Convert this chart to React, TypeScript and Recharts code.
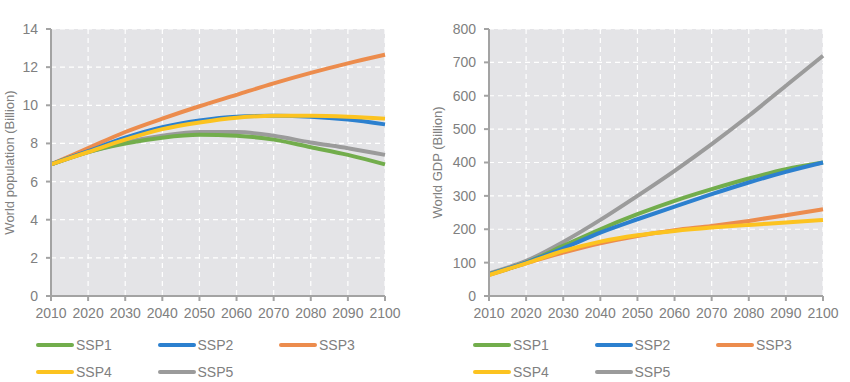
import React from 'react';
import { LineChart, Line, XAxis, YAxis, CartesianGrid } from 'recharts';

const years = [2010, 2020, 2030, 2040, 2050, 2060, 2070, 2080, 2090, 2100];

const popSSP1 = [6.9, 7.55, 8.0, 8.3, 8.45, 8.4, 8.2, 7.8, 7.4, 6.9];
const popSSP2 = [6.9, 7.6, 8.3, 8.85, 9.2, 9.4, 9.45, 9.4, 9.25, 9.0];
const popSSP3 = [6.9, 7.75, 8.6, 9.3, 9.95, 10.55, 11.15, 11.7, 12.2, 12.65];
const popSSP4 = [6.9, 7.55, 8.2, 8.75, 9.1, 9.35, 9.45, 9.45, 9.4, 9.3];
const popSSP5 = [6.9, 7.55, 8.05, 8.4, 8.6, 8.6, 8.4, 8.05, 7.75, 7.4];

const gdpSSP1 = [65, 100, 150, 200, 245, 285, 320, 352, 380, 400];
const gdpSSP2 = [65, 100, 143, 190, 230, 268, 305, 340, 372, 400];
const gdpSSP3 = [63, 98, 130, 158, 180, 197, 210, 225, 242, 260];
const gdpSSP4 = [63, 98, 135, 163, 182, 195, 205, 213, 220, 228];
const gdpSSP5 = [68, 105, 162, 228, 300, 375, 455, 540, 630, 720];

const popTicks = [0, 2, 4, 6, 8, 10, 12, 14];
const gdpTicks = [0, 100, 200, 300, 400, 500, 600, 700, 800];

const seriesNames = ['SSP1', 'SSP2', 'SSP3', 'SSP4', 'SSP5'];
const seriesColors = ['#72ad4c', '#2c80cf', '#ec8c4d', '#fcc320', '#9b9b9b'];

const popData = years.map((y, i) => ({
  year: y, SSP1: popSSP1[i], SSP2: popSSP2[i], SSP3: popSSP3[i], SSP4: popSSP4[i], SSP5: popSSP5[i],
}));
const gdpData = years.map((y, i) => ({
  year: y, SSP1: gdpSSP1[i], SSP2: gdpSSP2[i], SSP3: gdpSSP3[i], SSP4: gdpSSP4[i], SSP5: gdpSSP5[i],
}));

const FONT = '"Liberation Sans", Arial, sans-serif';
const TEXT = '#808080';
const AXIS = '#a3a3a3';

// draw order so grey sits under / over like the original
const drawOrder = [2, 4, 0, 1, 3];

const Legend2: React.FC<{ left: number }> = ({ left }) => (
  <div style={{ position: 'absolute', left, top: 334, width: 380, fontFamily: FONT, fontSize: 14, color: TEXT }}>
    {seriesNames.map((n, i) => (
      <div
        key={n}
        style={{
          position: 'absolute',
          left: (i % 3) * 121.5,
          top: Math.floor(i / 3) * 27,
          display: 'flex',
          alignItems: 'center',
          height: 22,
        }}
      >
        <div style={{ width: 38, height: 4, borderRadius: 2, background: seriesColors[i], marginRight: 2 }} />
        <span>{n}</span>
      </div>
    ))}
  </div>
);

const Panel: React.FC<{
  data: any[];
  ticks: number[];
  max: number;
  label: string;
  yWidth: number;
  rightMargin: number;
  labelDx: number;
}> = ({ data, ticks, max, label, yWidth, rightMargin, labelDx }) => (
  <LineChart
    width={425}
    height={330}
    data={data}
    margin={{ top: 29, right: rightMargin, left: 0, bottom: 0 }}
  >
    <CartesianGrid stroke="#ffffff" strokeWidth={1.2} strokeDasharray="5 4" fill="#e4e4e7" />
    <XAxis
      dataKey="year"
      type="number"
      domain={[2010, 2100]}
      ticks={years}
      height={34}
      stroke={AXIS}
      strokeWidth={2}
      tickSize={5}
      tickMargin={7}
      tick={{ fill: TEXT, fontSize: 14, fontFamily: FONT }}
      interval={0}
    />
    <YAxis
      type="number"
      domain={[0, max]}
      ticks={ticks}
      width={yWidth}
      stroke={AXIS}
      strokeWidth={2}
      tickSize={5}
      tickMargin={8}
      tick={{ fill: TEXT, fontSize: 14, fontFamily: FONT }}
      label={{ value: label, angle: -90, position: 'center', dx: labelDx, style: { fill: TEXT, fontSize: 13, fontFamily: FONT } }}
    />
    {drawOrder.map((i) => (
      <Line
        key={seriesNames[i]}
        type="monotone"
        dataKey={seriesNames[i]}
        stroke={seriesColors[i]}
        strokeWidth={4}
        dot={false}
        isAnimationActive={false}
      />
    ))}
  </LineChart>
);

export default function App() {
  return (
    <div style={{ position: 'absolute', left: 0, top: 0, width: 850, height: 382, background: '#fff' }}>
      <div style={{ position: 'absolute', left: 0, top: 0 }}>
        <Panel data={popData} ticks={popTicks} max={14} label="World population (Billion)" yWidth={51} rightMargin={40} labelDx={-16} />
      </div>
      <div style={{ position: 'absolute', left: 425, top: 0 }}>
        <Panel data={gdpData} ticks={gdpTicks} max={800} label="World GDP (Billion)" yWidth={64} rightMargin={27} labelDx={-20} />
      </div>
      <Legend2 left={36} />
      <Legend2 left={473} />
    </div>
  );
}
